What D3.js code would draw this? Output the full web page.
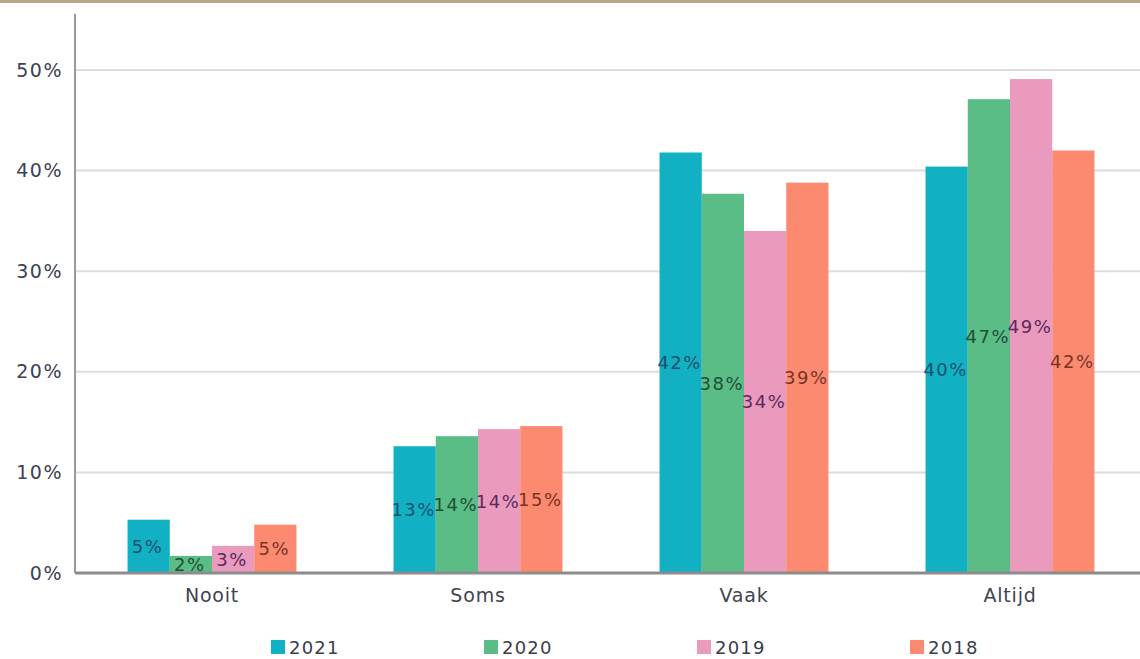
<!DOCTYPE html>
<html>
<head>
<meta charset="utf-8">
<script src="https://cdn.jsdelivr.net/npm/d3@7/dist/d3.min.js"></script>
<style>
  html, body { margin: 0; padding: 0; background: #fff; }
  svg { display: block; }
  text { font-family: "DejaVu Sans", Verdana, sans-serif; }
</style>
</head>
<body>
<svg id="chart" width="1140" height="659"></svg>
<script>
// Answer categories and survey years
const categories = ["Nooit", "Soms", "Vaak", "Altijd"];
const years = ["2021", "2020", "2019", "2018"];

// Share of respondents per category, one array per year
const values2021 = [0.053, 0.126, 0.418, 0.404];
const values2020 = [0.017, 0.136, 0.377, 0.471];
const values2019 = [0.027, 0.143, 0.340, 0.491];
const values2018 = [0.048, 0.146, 0.388, 0.420];

const yTicks = [0, 0.1, 0.2, 0.3, 0.4, 0.5];

const barColors = ["#11b0c3", "#5bbd86", "#e99abd", "#fb8a71"];
const labelColors = ["#17506e", "#1f4f35", "#5c2a5e", "#7a3425"];

const series = [values2021, values2020, values2019, values2018];

const svg = d3.select("#chart");
const W = 1140, H = 659;

// Top rule
svg.append("rect").attr("x", 0).attr("y", 0).attr("width", W).attr("height", 3)
  .attr("fill", "#b8a68a");

const x0 = d3.scaleBand().domain(categories).range([79, 1143])
  .paddingInner(0.365).paddingOuter(0.1825);
const x1 = d3.scaleBand().domain(years).range([0, x0.bandwidth()]);
const y = d3.scaleLinear().domain([0, 0.5]).range([573, 70]);
const yMax = 0.556;

// Gridlines
svg.append("g").selectAll("line").data(yTicks.filter(d => d > 0)).join("line")
  .attr("x1", 76).attr("x2", W)
  .attr("y1", d => y(d)).attr("y2", d => y(d))
  .attr("stroke", "#dcdcdc").attr("stroke-width", 2);

// Y axis
const yAxis = d3.axisLeft(y).tickValues(yTicks).tickFormat(d3.format(".0%"))
  .tickSize(0).tickPadding(12);
const gy = svg.append("g").attr("transform", "translate(75,0)").call(yAxis);
gy.select(".domain").remove();
gy.selectAll("text")
  .attr("font-family", "DejaVu Sans, Verdana, sans-serif")
  .attr("font-size", 19).attr("letter-spacing", 1.5)
  .attr("fill", "#3d4152");
svg.append("line").attr("x1", 75).attr("x2", 75).attr("y1", y(yMax)).attr("y2", y(0))
  .attr("stroke", "#9a9a9a").attr("stroke-width", 2);

// Bars
const groups = svg.append("g").selectAll("g").data(categories).join("g")
  .attr("transform", c => `translate(${x0(c)},0)`);

const cells = groups.selectAll("g").data((c, ci) => years.map((yr, si) => ({
  cat: c, year: yr, si, v: series[si][ci]
}))).join("g");

cells.append("rect")
  .attr("x", d => x1(d.year))
  .attr("width", x1.bandwidth())
  .attr("y", d => y(d.v))
  .attr("height", d => y(0) - y(d.v))
  .attr("fill", d => barColors[d.si]);

cells.append("text")
  .attr("x", d => x1(d.year) + x1.bandwidth() / 2 - 1)
  .attr("y", d => (y(d.v) + y(0)) / 2)
  .attr("dy", "0.36em")
  .attr("text-anchor", "middle")
  .attr("font-size", 18).attr("letter-spacing", 1.5)
  .attr("fill", d => labelColors[d.si])
  .text(d => d3.format(".0%")(d.v));

// X axis baseline
svg.append("line").attr("x1", 75).attr("x2", W).attr("y1", y(0)).attr("y2", y(0))
  .attr("stroke", "#8c8c8c").attr("stroke-width", 3);

// Category labels
const xAxis = d3.axisBottom(x0).tickSize(0).tickPadding(16);
const gx = svg.append("g").attr("transform", `translate(0,${y(0)})`).call(xAxis);
gx.select(".domain").remove();
gx.selectAll("text")
  .attr("font-family", "DejaVu Sans, Verdana, sans-serif")
  .attr("font-size", 19).attr("letter-spacing", 0.8)
  .attr("fill", "#3f4352");

// Legend
const legend = svg.append("g").selectAll("g").data(years).join("g")
  .attr("transform", (d, i) => `translate(${271 + i * 213},640)`);
legend.append("rect").attr("width", 14).attr("height", 14)
  .attr("fill", (d, i) => barColors[i]);
legend.append("text").attr("x", 18).attr("y", 14)
  .attr("font-size", 18).attr("letter-spacing", 1.2)
  .attr("fill", "#3a3d4a")
  .text(d => d);
</script>
</body>
</html>
